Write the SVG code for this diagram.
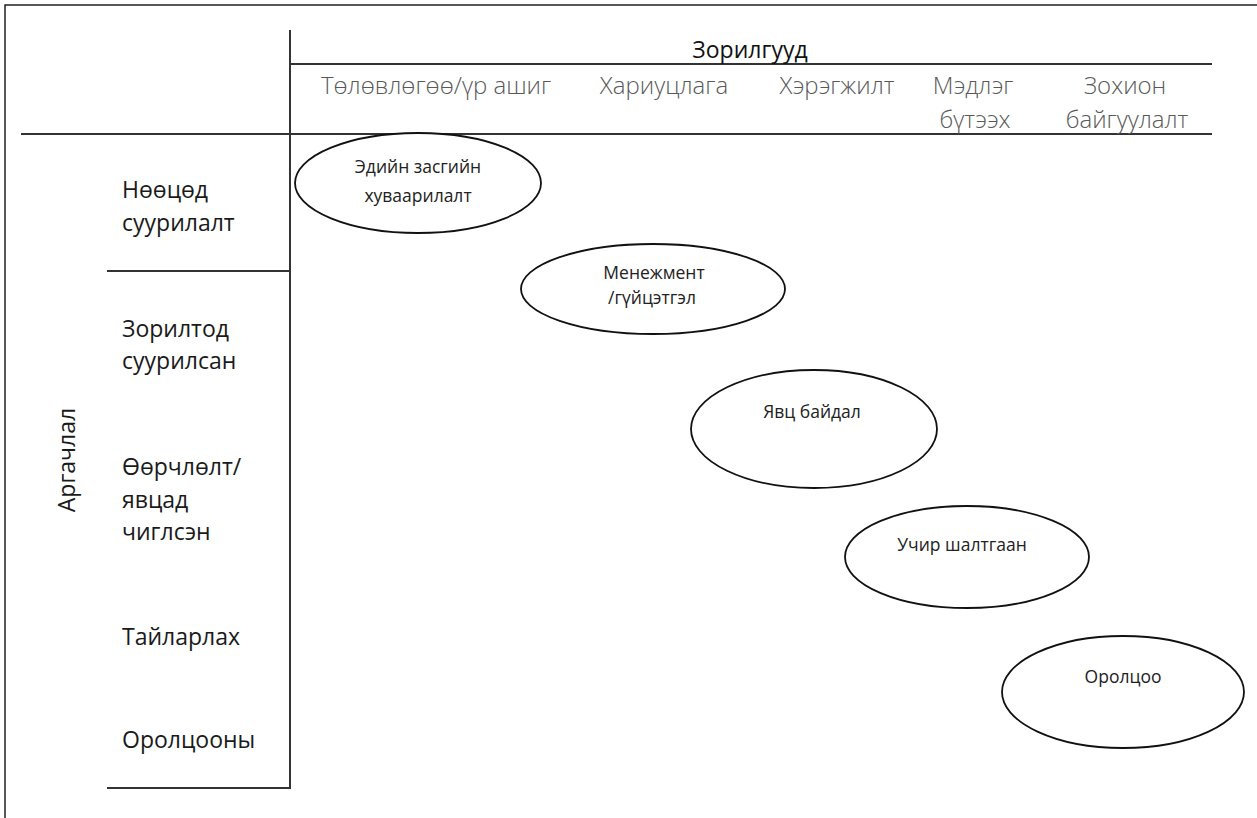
<svg xmlns="http://www.w3.org/2000/svg" width="1257" height="818" viewBox="0 0 1257 818">
<style>
.frame{fill:none;stroke:#222;stroke-width:1.5}
.ln{stroke:#333;stroke-width:2;fill:none}
.col{font-family:"Open Sans","Noto Sans","Liberation Sans",sans-serif;font-weight:300;font-size:24px;fill:#595959;text-anchor:middle}
.ttl{font-family:"Open Sans","Noto Sans","Liberation Sans",sans-serif;font-size:23px;fill:#111;text-anchor:middle}
.row{font-family:"Open Sans","Noto Sans","Liberation Sans",sans-serif;font-size:23px;fill:#1a1a1a}
.node ellipse{fill:#fff;stroke:#111;stroke-width:1.8}
.node text{font-family:"Open Sans","Noto Sans","Liberation Sans",sans-serif;font-size:17.5px;fill:#222;text-anchor:middle}
</style>
<rect width="1257" height="818" fill="#fff"/>
<path class="frame" d="M5,818 V5 H1257"/>
<g id="grid">
<line class="ln" x1="290" y1="30" x2="290" y2="789"/>
<line class="ln" x1="290" y1="64" x2="1212" y2="64"/>
<line class="ln" x1="21" y1="134" x2="1212" y2="134"/>
<line class="ln" x1="107" y1="271" x2="290" y2="271"/>
<line class="ln" x1="107" y1="788" x2="290" y2="788"/>
</g>
<g id="header">
<text class="ttl" x="750" y="58">Зорилгууд</text>
<text class="col" x="436" y="94">Төлөвлөгөө/үр ашиг</text>
<text class="col" x="664" y="94">Хариуцлага</text>
<text class="col" x="837" y="94">Хэрэгжилт</text>
<text class="col" x="973" y="94">Мэдлэг</text>
<text class="col" x="975" y="128">бүтээх</text>
<text class="col" x="1125" y="94">Зохион</text>
<text class="col" x="1127" y="128">байгуулалт</text>
</g>
<g id="rows">
<text class="row" x="75" y="460" text-anchor="middle" transform="rotate(-90 75 460)">Аргачлал</text>
<text class="row" x="122" y="198">Нөөцөд</text>
<text class="row" x="122" y="231">суурилалт</text>
<text class="row" x="122" y="337">Зорилтод</text>
<text class="row" x="122" y="369">суурилсан</text>
<text class="row" x="122" y="475">Өөрчлөлт/</text>
<text class="row" x="122" y="508">явцад</text>
<text class="row" x="122" y="540">чиглсэн</text>
<text class="row" x="122" y="645">Тайларлах</text>
<text class="row" x="122" y="748">Оролцооны</text>
</g>
<g id="connectors"></g>
<g id="n1" class="node">
<ellipse cx="418" cy="183" rx="123" ry="50"/>
<text x="418" y="173">Эдийн засгийн</text>
<text x="418" y="202">хуваарилалт</text>
</g>
<g id="n2" class="node">
<ellipse cx="653" cy="289" rx="132" ry="45"/>
<text x="654" y="279">Менежмент</text>
<text x="652" y="304">/гүйцэтгэл</text>
</g>
<g id="n3" class="node">
<ellipse cx="814" cy="429" rx="123" ry="59"/>
<text x="812" y="418">Явц байдал</text>
</g>
<g id="n4" class="node">
<ellipse cx="967" cy="557" rx="122" ry="51"/>
<text x="962" y="551">Учир шалтгаан</text>
</g>
<g id="n5" class="node">
<ellipse cx="1123" cy="692" rx="121" ry="56"/>
<text x="1123" y="683">Оролцоо</text>
</g>
</svg>
